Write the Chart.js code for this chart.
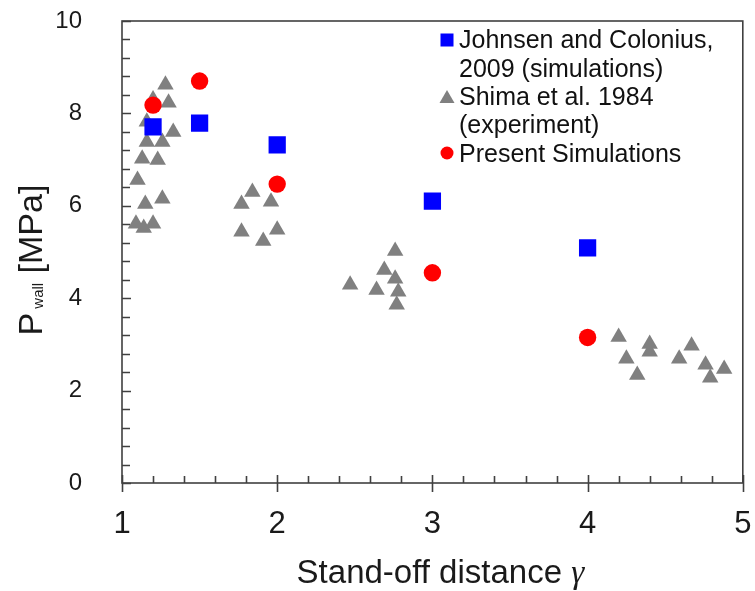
<!DOCTYPE html>
<html>
<head>
<meta charset="utf-8">
<script src="https://cdn.jsdelivr.net/npm/chart.js@4.4.0/dist/chart.umd.min.js"></script>
<style>
  html, body { margin: 0; padding: 0; background: #fff; }
  #wrap { width: 755px; height: 591px; }
</style>
</head>
<body>
<div id="wrap"><canvas id="grafico" width="755" height="591"></canvas></div>
<script>
// Johnsen and Colonius, 2009 (simulaciones)
const johnsenX = [1.2, 1.5, 2.0, 3.0, 4.0];
const johnsenY = [7.71, 7.79, 7.32, 6.10, 5.09];

// Shima et al. 1984 (experimento)
const shimaX = [1.28, 1.30, 1.20, 1.16, 1.33, 1.16, 1.26, 1.13, 1.23, 1.10, 1.15, 1.26, 1.09, 1.14, 1.20,
  1.84, 1.77, 1.96, 1.77, 2.00, 1.91,
  2.76, 2.69, 2.47, 2.64, 2.76, 2.78, 2.77,
  4.20, 4.25, 4.32, 4.40, 4.40, 4.59, 4.67, 4.76, 4.79, 4.88];
const shimaY = [8.62, 8.23, 8.30, 7.82, 7.60, 7.38, 7.38, 7.02, 6.99, 6.56, 6.04, 6.15, 5.61, 5.52, 5.61,
  6.30, 6.04, 6.09, 5.44, 5.48, 5.24,
  5.02, 4.61, 4.29, 4.18, 4.42, 4.14, 3.86,
  3.16, 2.69, 2.34, 3.01, 2.84, 2.69, 2.97, 2.56, 2.28, 2.47];

// Simulaciones actuales
const presentX = [1.2, 1.5, 2.0, 3.0, 4.0];
const presentY = [8.18, 8.70, 6.47, 4.55, 3.15];

// Ejes
const xTicks = [1, 2, 3, 4, 5];
const yTicks = [0, 2, 4, 6, 8, 10];
const xTitle = "Stand-off distance ";
const xTitleSymbol = "\u03B3";
const yTitle = ["P", "wall", " [MPa]"];

// Leyenda (texto en varias lineas)
const legendLines = [
  ["Johnsen and Colonius,", "2009 (simulations)"],
  ["Shima et al. 1984", "(experiment)"],
  ["Present Simulations"]
];

const FONT = '"Liberation Sans", Arial, sans-serif';

function puntos(xs, ys) {
  return xs.map(function (x, i) { return { x: x, y: ys[i] }; });
}

// Plugin para marco, marcas de los ejes, titulos y leyenda
const decoraciones = {
  id: "decoraciones",
  afterDraw(chart) {
    const ctx = chart.ctx;
    const a = chart.chartArea;
    const xs = chart.scales.x;
    const ys = chart.scales.y;
    ctx.save();

    // Marco
    ctx.strokeStyle = "#404040";
    ctx.lineWidth = 1.6;
    ctx.strokeRect(a.left, a.top, a.right - a.left, a.bottom - a.top);

    // Marcas del eje x (menores cada 0.2)
    ctx.beginPath();
    for (let i = 0; i <= 20; i++) {
      const v = 1 + i * 0.2;
      const px = Math.round(xs.getPixelForValue(v)) + 0.5;
      if (i % 5 === 0) {
        ctx.moveTo(px, a.bottom - 8);
        ctx.lineTo(px, a.bottom + 9);
      } else {
        ctx.moveTo(px, a.bottom - 7);
        ctx.lineTo(px, a.bottom);
      }
    }
    // Marcas del eje y (menores cada 0.4)
    for (let i = 0; i <= 25; i++) {
      const v = i * 0.4;
      const py = Math.round(ys.getPixelForValue(v)) + 0.5;
      ctx.moveTo(a.left, py);
      ctx.lineTo(a.left + (i % 5 === 0 ? 9 : 8), py);
    }
    ctx.stroke();

    // Titulo del eje x
    ctx.fillStyle = "#1a1a1a";
    ctx.textBaseline = "alphabetic";
    ctx.textAlign = "left";
    ctx.font = "33px " + FONT;
    const w1 = ctx.measureText(xTitle).width;
    ctx.font = 'italic 33px "Liberation Serif", serif';
    const w2 = ctx.measureText(xTitleSymbol).width;
    const cx = (a.left + a.right) / 2 + 8;
    let sx = cx - (w1 + w2) / 2;
    ctx.font = "33px " + FONT;
    ctx.fillText(xTitle, sx, 583);
    ctx.font = 'italic 33px "Liberation Serif", serif';
    ctx.fillText(xTitleSymbol, sx + w1, 583);

    // Titulo del eje y (rotado, con subindice)
    ctx.save();
    ctx.translate(42, 260);
    ctx.rotate(-Math.PI / 2);
    ctx.font = "34px " + FONT;
    const p1 = ctx.measureText(yTitle[0]).width;
    const p3 = ctx.measureText(yTitle[2]).width;
    ctx.font = "15px " + FONT;
    const p2 = ctx.measureText(yTitle[1]).width;
    const gap = 4;
    let ty = -(p1 + gap + p2 + p3) / 2;
    ctx.font = "34px " + FONT;
    ctx.fillText(yTitle[0], ty, 0);
    ctx.font = "15px " + FONT;
    ctx.fillText(yTitle[1], ty + p1 + gap, 1);
    ctx.font = "34px " + FONT;
    ctx.fillText(yTitle[2], ty + p1 + gap + p2, 0);
    ctx.restore();

    // Leyenda
    const baselines = [[48, 77], [105, 133], [162]];
    const markerY = [40, 97, 153];
    const mx = 447;
    ctx.font = "25px " + FONT;
    ctx.fillStyle = "#111";
    legendLines.forEach(function (lines, k) {
      lines.forEach(function (t, j) {
        ctx.fillText(t, 459, baselines[k][j]);
      });
    });
    // marcadores de la leyenda
    ctx.fillStyle = "#0000ff";
    ctx.fillRect(mx - 6.5, markerY[0] - 6.5, 13, 13);
    ctx.fillStyle = "#808080";
    ctx.beginPath();
    ctx.moveTo(mx, markerY[1] - 7);
    ctx.lineTo(mx + 7.5, markerY[1] + 6);
    ctx.lineTo(mx - 7.5, markerY[1] + 6);
    ctx.closePath();
    ctx.fill();
    ctx.fillStyle = "#ff0000";
    ctx.beginPath();
    ctx.arc(mx, markerY[2], 6.5, 0, Math.PI * 2);
    ctx.fill();

    ctx.restore();
  }
};

const ctx = document.getElementById("grafico").getContext("2d");
const grafico = new Chart(ctx, {
  type: "scatter",
  data: {
    datasets: [
      {
        label: legendLines[2].join(" "),
        data: puntos(presentX, presentY),
        pointStyle: "circle",
        pointRadius: 8.7,
        pointHoverRadius: 8.7,
        backgroundColor: "#ff0000",
        borderColor: "#ff0000",
        borderWidth: 0,
      },
      {
        label: legendLines[0].join(" "),
        data: puntos(johnsenX, johnsenY),
        pointStyle: "rect",
        pointRadius: 12.2,
        pointHoverRadius: 12.2,
        backgroundColor: "#0000ff",
        borderColor: "#0000ff",
        borderWidth: 0,
      },
      {
        label: legendLines[1].join(" "),
        data: puntos(shimaX, shimaY),
        pointStyle: "triangle",
        pointRadius: 9.5,
        pointHoverRadius: 9.5,
        backgroundColor: "#808080",
        borderColor: "#808080",
        borderWidth: 0,
      },
    ],
  },
  options: {
    responsive: false,
    devicePixelRatio: 1,
    animation: false,
    layout: { padding: { left: 0, right: 11, top: 21, bottom: 0 } },
    scales: {
      x: {
        type: "linear",
        min: 1,
        max: 5,
        afterBuildTicks: function (s) { s.ticks = xTicks.map(function (v) { return { value: v }; }); },
        afterFit: function (s) { s.height = 108; s.paddingLeft = 0; s.paddingRight = 0; },
        ticks: {
          font: { family: FONT, size: 31 },
          color: "#1a1a1a",
          padding: 23,
          maxRotation: 0,
        },
        grid: { display: false, drawTicks: false },
        border: { display: false },
      },
      y: {
        min: 0,
        max: 10,
        afterBuildTicks: function (s) { s.ticks = yTicks.map(function (v) { return { value: v }; }); },
        afterFit: function (s) { s.width = 122; s.paddingTop = 0; s.paddingBottom = 0; },
        ticks: {
          font: { family: FONT, size: 24 },
          color: "#1a1a1a",
          padding: 40,
        },
        grid: { display: false, drawTicks: false },
        border: { display: false },
      },
    },
    plugins: {
      legend: { display: false },
      tooltip: { enabled: false },
    },
  },
  plugins: [decoraciones],
});
</script>
</body>
</html>
